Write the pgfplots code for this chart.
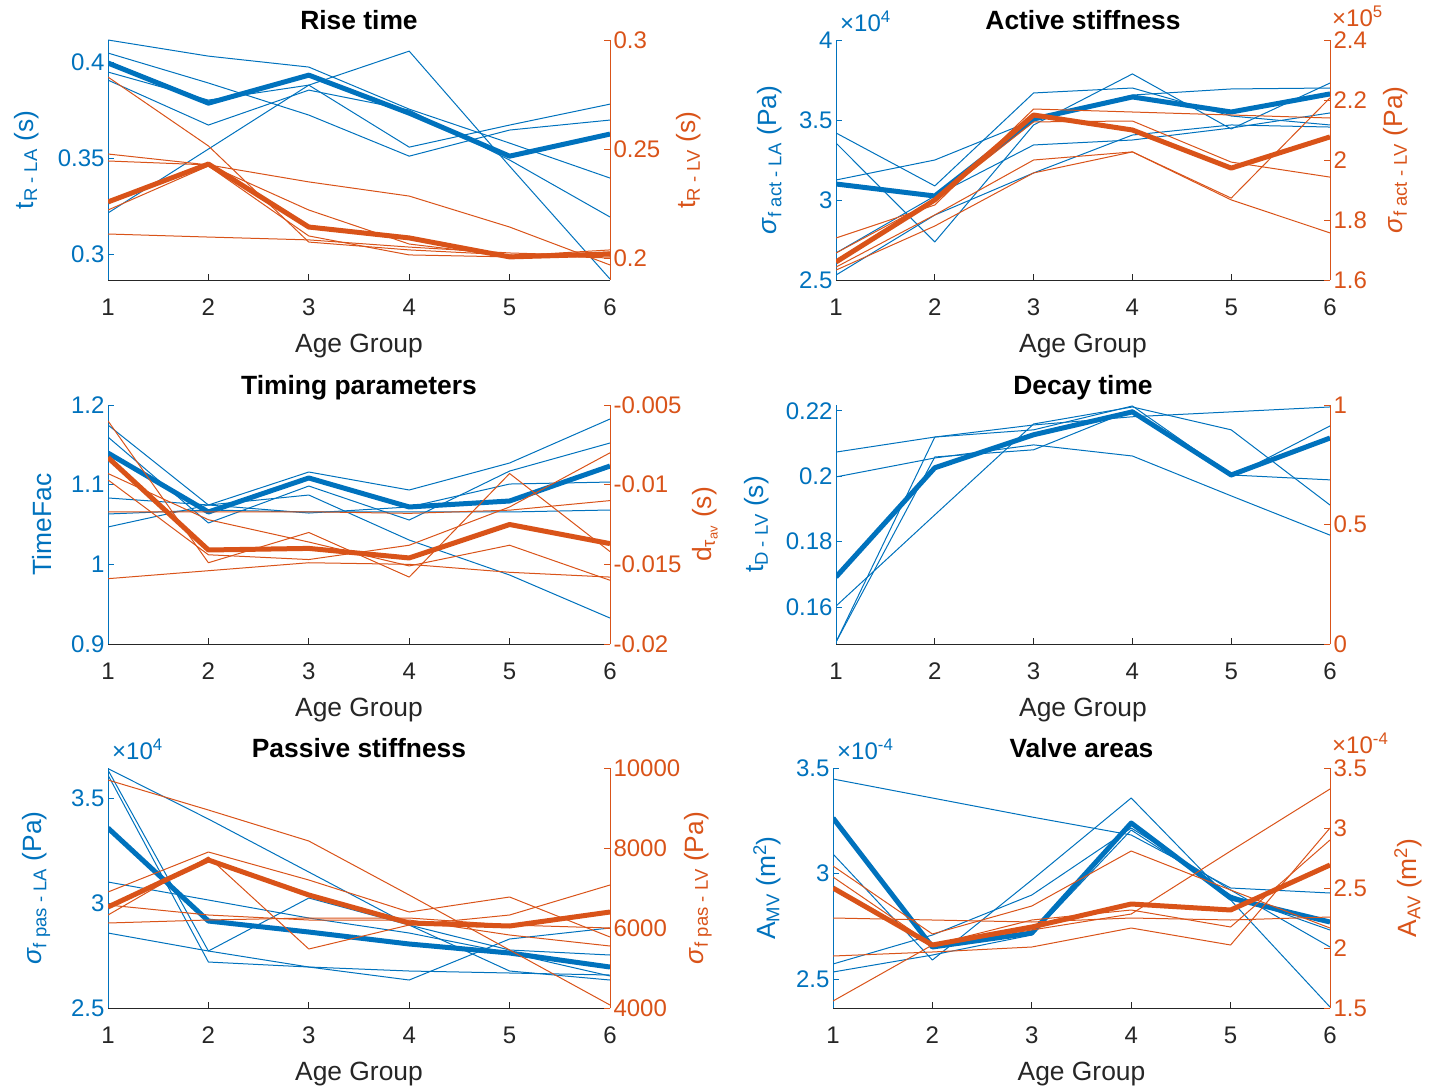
\documentclass[border=0pt]{standalone}
\usepackage{pgfplots}
\pgfplotsset{compat=1.18}
\usepackage{fontspec}
\setmainfont{Liberation Sans}
\definecolor{mblue}{rgb}{0,0.447,0.741}
\definecolor{morange}{rgb}{0.85,0.325,0.098}
\definecolor{axgray}{rgb}{0.15,0.15,0.15}
\newcommand\tks{\fontsize{24}{26}\selectfont}
\newcommand\lbs{\fontsize{26.4}{30}\selectfont}
\pgfplotsset{
  common/.style={scale only axis, xmin=1, xmax=6, tick align=inside, major tick length=6pt,
    scaled y ticks=false, scaled x ticks=false,
    /pgf/number format/assume math mode=true, ticklabel style={font=\tks},
    label style={font=\lbs}, axis line style={-, line width=0.8pt}},
  L/.style={common, axis x line*=bottom, axis y line*=left, xtick pos=left, ytick pos=left,
    xtick={1,2,3,4,5,6}, xticklabels={1,2,3,4,5,6},
    x axis line style={axgray}, y axis line style={mblue},
    xtick style={axgray, line width=0.8pt}, ytick style={mblue, line width=0.8pt},
    xticklabel style={axgray, anchor=base, yshift=-35pt}, yticklabel style={mblue},
    xlabel={Age Group}, xlabel style={axgray, at={(axis description cs:0.5,0)}, anchor=base, yshift=-72pt},
    title style={font=\lbs\bfseries, at={(axis description cs:0.5,1)}, anchor=base, yshift=4.5pt}},
  R/.style={common, hide x axis, axis y line*=right, ytick pos=right, yticklabel pos=right,
    y axis line style={morange}, ytick style={morange, line width=0.8pt}, yticklabel style={morange}},
  th/.style={line width=1pt, line join=round},
  tk/.style={line width=5pt, line join=round},
  ylab/.style 2 args={ylabel style={#1, at={(axis description cs:#2,0.5)}, anchor=center}},
}
\begin{document}
\begin{tikzpicture}
\path[use as bounding box] (0pt,0pt) rectangle (1443pt,-1091pt);
% ---------------- Panel 1: Rise time
\begin{axis}[L, at={(108pt,-280pt)}, anchor=south west, width=502pt, height=240pt,
  ymin=0.2865, ymax=0.4115, ytick={0.3,0.35,0.4}, yticklabels={0.3,0.35,0.4},
  title={Rise time}, ylabel={t\textsubscript{R - LA} (s)}, ylab={mblue}{-0.163}]
\addplot[mblue,th] coordinates {(1,0.4115)(2,0.4031)(3,0.3974)(4,0.3755)(5,0.3578)(6,0.3396)};
\addplot[mblue,th] coordinates {(1,0.4047)(2,0.3891)(3,0.3724)(4,0.3510)(5,0.3646)(6,0.3698)};
\addplot[mblue,th] coordinates {(1,0.3948)(2,0.3802)(3,0.3880)(4,0.3557)(5,0.3672)(6,0.3781)};
\addplot[mblue,th] coordinates {(1,0.3906)(2,0.3672)(3,0.3854)(4,0.3750)(5,0.3490)(6,0.3193)};
\addplot[mblue,th] coordinates {(1,0.3214)(2,0.3547)(3,0.3880)(4,0.4057)(5,0.3458)(6,0.2870)};
\addplot[mblue,tk] coordinates {(1,0.3995)(2,0.3786)(3,0.3932)(4,0.3734)(5,0.3510)(6,0.3625)};
\end{axis}
\begin{axis}[R, at={(108pt,-280pt)}, anchor=south west, width=502pt, height=240pt,
  ymin=0.1899, ymax=0.3, ytick={0.2,0.25,0.3}, yticklabels={0.2,0.25,0.3},
  ylabel={t\textsubscript{R - LV} (s)}, ylab={morange}{1.157}]
\addplot[morange,th] coordinates {(1,0.2830)(2,0.2514)(3,0.2073)(4,0.2037)(5,0.2014)(6,0.2000)};
\addplot[morange,th] coordinates {(1,0.2477)(2,0.2427)(3,0.2349)(4,0.2284)(5,0.2142)(6,0.1968)};
\addplot[morange,th] coordinates {(1,0.2445)(2,0.2427)(3,0.2220)(4,0.2064)(5,0.2009)(6,0.2037)};
\addplot[morange,th] coordinates {(1,0.2220)(2,0.2422)(3,0.2101)(4,0.2014)(5,0.2005)(6,0.2028)};
\addplot[morange,th] coordinates {(1,0.2110)(2,0.2096)(3,0.2083)(4,0.2050)(5,0.2023)(6,0.2009)};
\addplot[morange,tk] coordinates {(1,0.2257)(2,0.2431)(3,0.2142)(4,0.2092)(5,0.2005)(6,0.2018)};
\end{axis}
% ---------------- Panel 2: Active stiffness
\begin{axis}[L, at={(836pt,-280pt)}, anchor=south west, width=494pt, height=240pt,
  ymin=2.5, ymax=4, ytick={2.5,3,3.5,4}, yticklabels={2.5,3,3.5,4},
  title={Active stiffness}, ylabel={\textit{σ}\textsubscript{f act - LA} (Pa)}, ylab={mblue}{-0.134},
  extra description/.code={\node[anchor=south west, inner sep=0pt, mblue, font=\tks, xshift=4pt, yshift=8pt] at (0,1) {×10\textsuperscript{4}};}]
\addplot[mblue,th] coordinates {(1,3.419)(2,3.088)(3,3.669)(4,3.700)(5,3.525)(6,3.469)};
\addplot[mblue,th] coordinates {(1,3.356)(2,2.738)(3,3.469)(4,3.788)(5,3.444)(6,3.731)};
\addplot[mblue,th] coordinates {(1,3.125)(2,3.250)(3,3.500)(4,3.656)(5,3.694)(6,3.700)};
\addplot[mblue,th] coordinates {(1,2.669)(2,3.025)(3,3.344)(4,3.375)(5,3.450)(6,3.544)};
\addplot[mblue,th] coordinates {(1,2.531)(2,2.906)(3,3.169)(4,3.406)(5,3.469)(6,3.456)};
\addplot[mblue,tk] coordinates {(1,3.100)(2,3.025)(3,3.506)(4,3.644)(5,3.550)(6,3.663)};
\end{axis}
\begin{axis}[R, at={(836pt,-280pt)}, anchor=south west, width=494pt, height=240pt,
  ymin=1.6, ymax=2.4, ytick={1.6,1.8,2,2.2,2.4}, yticklabels={1.6,1.8,2,2.2,2.4},
  ylabel={\textit{σ}\textsubscript{f act - LV} (Pa)}, ylab={morange}{1.132},
  extra description/.code={\node[anchor=south west, inner sep=0pt, morange, font=\tks, xshift=2pt, yshift=13pt] at (1,1) {×10\textsuperscript{5}};}]
\addplot[morange,th] coordinates {(1,1.740)(2,1.850)(3,2.170)(4,2.160)(5,2.150)(6,2.140)};
\addplot[morange,th] coordinates {(1,1.690)(2,1.867)(3,2.127)(4,2.130)(5,1.993)(6,1.943)};
\addplot[morange,th] coordinates {(1,1.643)(2,1.817)(3,2.000)(4,2.027)(5,1.873)(6,2.207)};
\addplot[morange,th] coordinates {(1,1.633)(2,1.780)(3,1.957)(4,2.027)(5,1.867)(6,1.757)};
\addplot[morange,tk] coordinates {(1,1.660)(2,1.867)(3,2.150)(4,2.100)(5,1.973)(6,2.077)};
\end{axis}
% ---------------- Panel 3: Timing parameters
\begin{axis}[L, at={(108pt,-644pt)}, anchor=south west, width=502pt, height=239pt,
  ymin=0.9, ymax=1.2, ytick={0.9,1,1.1,1.2}, yticklabels={0.9,1,1.1,1.2},
  title={Timing parameters}, ylabel={TimeFac}, ylab={mblue}{-0.131}]
\addplot[mblue,th] coordinates {(1,1.1749)(2,1.0745)(3,1.1159)(4,1.0933)(5,1.1272)(6,1.1824)};
\addplot[mblue,th] coordinates {(1,1.1598)(2,1.0519)(3,1.0983)(4,1.0556)(5,1.1171)(6,1.1523)};
\addplot[mblue,th] coordinates {(1,1.0833)(2,1.0745)(3,1.0644)(4,1.0720)(5,1.1008)(6,1.1033)};
\addplot[mblue,th] coordinates {(1,1.0632)(2,1.0682)(3,1.0657)(4,1.0657)(5,1.0657)(6,1.0682)};
\addplot[mblue,th] coordinates {(1,1.0469)(2,1.0745)(3,1.0870)(4,1.0305)(5,0.9866)(6,0.9326)};
\addplot[mblue,tk] coordinates {(1,1.1397)(2,1.0657)(3,1.1084)(4,1.0720)(5,1.0795)(6,1.1234)};
\end{axis}
\begin{axis}[R, at={(108pt,-644pt)}, anchor=south west, width=502pt, height=239pt,
  ymin=-0.02, ymax=-0.005, ytick={-0.02,-0.015,-0.01,-0.005}, yticklabels={-0.02,-0.015,-0.01,-0.005},
  ylabel={d\textsubscript{τ\textsubscript{av}} (s)}, ylab={morange}{1.189}]
\addplot[morange,th] coordinates {(1,-0.0060)(2,-0.0149)(3,-0.0130)(4,-0.0158)(5,-0.0093)(6,-0.0142)};
\addplot[morange,th] coordinates {(1,-0.0093)(2,-0.0122)(3,-0.0136)(4,-0.0151)(5,-0.0138)(6,-0.0160)};
\addplot[morange,th] coordinates {(1,-0.0097)(2,-0.0144)(3,-0.0147)(4,-0.0138)(5,-0.0114)(6,-0.0080)};
\addplot[morange,th] coordinates {(1,-0.0117)(2,-0.0117)(3,-0.0117)(4,-0.0118)(5,-0.0116)(6,-0.0110)};
\addplot[morange,th] coordinates {(1,-0.0159)(2,-0.0154)(3,-0.0149)(4,-0.0150)(5,-0.0155)(6,-0.0158)};
\addplot[morange,tk] coordinates {(1,-0.0083)(2,-0.0141)(3,-0.0140)(4,-0.0146)(5,-0.0125)(6,-0.0137)};
\end{axis}
% ---------------- Panel 4: Decay time
\begin{axis}[L, at={(836pt,-644pt)}, anchor=south west, width=494pt, height=239pt,
  ymin=0.1487, ymax=0.2218, ytick={0.16,0.18,0.2,0.22}, yticklabels={0.16,0.18,0.2,0.22},
  title={Decay time}, ylabel={t\textsubscript{D - LV} (s)}, ylab={mblue}{-0.160}]
\addplot[mblue,th] coordinates {(1,0.2074)(2,0.2120)(3,0.2157)(4,0.2182)(5,0.2197)(6,0.2212)};
\addplot[mblue,th] coordinates {(1,0.1998)(2,0.2056)(3,0.2096)(4,0.2062)(5,0.1940)(6,0.1820)};
\addplot[mblue,th] coordinates {(1,0.1603)(2,0.1882)(3,0.2160)(4,0.2212)(5,0.2142)(6,0.1912)};
\addplot[mblue,th] coordinates {(1,0.1493)(2,0.2120)(3,0.2142)(4,0.2215)(5,0.2004)(6,0.1989)};
\addplot[mblue,th] coordinates {(1,0.1493)(2,0.2059)(3,0.2081)(4,0.2203)(5,0.1998)(6,0.2154)};
\addplot[mblue,tk] coordinates {(1,0.1692)(2,0.2026)(3,0.2127)(4,0.2197)(5,0.2004)(6,0.2117)};
\end{axis}
\begin{axis}[R, at={(836pt,-644pt)}, anchor=south west, width=494pt, height=239pt,
  ymin=0, ymax=1, ytick={0,0.5,1}, yticklabels={0,0.5,1}]
\end{axis}
% ---------------- Panel 5: Passive stiffness
\begin{axis}[L, at={(108pt,-1008pt)}, anchor=south west, width=502pt, height=240pt,
  ymin=2.5, ymax=3.643, ytick={2.5,3,3.5}, yticklabels={2.5,3,3.5},
  title={Passive stiffness}, ylabel={\textit{σ}\textsubscript{f pas - LA} (Pa)}, ylab={mblue}{-0.143},
  extra description/.code={\node[anchor=south west, inner sep=0pt, mblue, font=\tks, xshift=4pt, yshift=8pt] at (0,1) {×10\textsuperscript{4}};}]
\addplot[mblue,th] coordinates {(1,3.6400)(2,3.4000)(3,3.1476)(4,2.8952)(5,2.6762)(6,2.6333)};
\addplot[mblue,th] coordinates {(1,3.6333)(2,2.7714)(3,3.0238)(4,2.8952)(5,2.7762)(6,2.7524)};
\addplot[mblue,th] coordinates {(1,3.6095)(2,2.7190)(3,2.6952)(4,2.6333)(5,2.8286)(6,2.8810)};
\addplot[mblue,th] coordinates {(1,3.1000)(2,3.0143)(3,2.9286)(4,2.8571)(5,2.7619)(6,2.6524)};
\addplot[mblue,th] coordinates {(1,2.8571)(2,2.7714)(3,2.6952)(4,2.6762)(5,2.6667)(6,2.6571)};
\addplot[mblue,tk] coordinates {(1,3.3571)(2,2.9143)(3,2.8619)(4,2.8048)(5,2.7619)(6,2.6952)};
\end{axis}
\begin{axis}[R, at={(108pt,-1008pt)}, anchor=south west, width=502pt, height=240pt,
  ymin=4000, ymax=10000, ytick={4000,6000,8000,10000}, yticklabels={4000,6000,8000,10000},
  ylabel={\textit{σ}\textsubscript{f pas - LV} (Pa)}, ylab={morange}{1.175}]
\addplot[morange,th] coordinates {(1,9700)(2,8950)(3,8175)(4,6825)(5,5450)(6,4075)};
\addplot[morange,th] coordinates {(1,6900)(2,7900)(3,7200)(4,6400)(5,6775)(6,5775)};
\addplot[morange,th] coordinates {(1,6325)(2,7775)(3,5475)(4,6075)(5,6325)(6,7075)};
\addplot[morange,th] coordinates {(1,6125)(2,6200)(3,6250)(4,6250)(5,6075)(6,6000)};
\addplot[morange,th] coordinates {(1,6575)(2,6325)(3,6200)(4,6200)(5,5825)(6,5550)};
\addplot[morange,tk] coordinates {(1,6525)(2,7700)(3,6825)(4,6125)(5,6050)(6,6400)};
\end{axis}
% ---------------- Panel 6: Valve areas
\begin{axis}[L, at={(833pt,-1008pt)}, anchor=south west, width=497pt, height=240pt,
  ymin=2.3626, ymax=3.5, ytick={2.5,3,3.5}, yticklabels={2.5,3,3.5},
  title={Valve areas}, ylabel={A\textsubscript{MV} (m\textsuperscript{2})}, ylab={mblue}{-0.133},
  extra description/.code={\node[anchor=south west, inner sep=0pt, mblue, font=\tks, xshift=4pt, yshift=8pt] at (0,1) {×10\textsuperscript{-4}};}]
\addplot[mblue,th] coordinates {(1,3.4479)(2,3.3578)(3,3.2678)(4,3.1825)(5,2.9313)(6,2.9076)};
\addplot[mblue,th] coordinates {(1,3.0924)(2,2.5900)(3,2.9692)(4,3.3578)(5,2.8744)(6,2.3673)};
\addplot[mblue,th] coordinates {(1,2.5711)(2,2.7085)(3,2.8981)(4,3.2156)(5,2.9218)(6,2.6517)};
\addplot[mblue,th] coordinates {(1,2.5332)(2,2.6137)(3,2.7085)(4,3.2062)(5,2.8981)(6,2.7322)};
\addplot[mblue,tk] coordinates {(1,3.2630)(2,2.6517)(3,2.7180)(4,3.2393)(5,2.8839)(6,2.7701)};
\end{axis}
\begin{axis}[R, at={(833pt,-1008pt)}, anchor=south west, width=497pt, height=240pt,
  ymin=1.5, ymax=3.5, ytick={1.5,2,2.5,3,3.5}, yticklabels={1.5,2,2.5,3,3.5},
  ylabel={A\textsubscript{AV} (m\textsuperscript{2})}, ylab={morange}{1.157},
  extra description/.code={\node[anchor=south west, inner sep=0pt, morange, font=\tks, xshift=2pt, yshift=14pt] at (1,1) {×10\textsuperscript{-4}};}]
\addplot[morange,th] coordinates {(1,2.6833)(2,2.1167)(3,2.3500)(4,2.8083)(5,2.4833)(6,2.1667)};
\addplot[morange,th] coordinates {(1,2.5917)(2,2.0250)(3,2.2333)(4,2.3167)(5,2.1750)(6,2.9000)};
\addplot[morange,th] coordinates {(1,2.2500)(2,2.2333)(3,2.2167)(4,2.2500)(5,2.2333)(6,2.2583)};
\addplot[morange,th] coordinates {(1,1.9333)(2,1.9667)(3,2.0083)(4,2.1667)(5,2.0250)(6,3.0000)};
\addplot[morange,th] coordinates {(1,1.5583)(2,2.0250)(3,2.1500)(4,2.2833)(5,2.8083)(6,3.3250)};
\addplot[morange,tk] coordinates {(1,2.5000)(2,2.0250)(3,2.1750)(4,2.3667)(5,2.3167)(6,2.6917)};
\end{axis}
\end{tikzpicture}
\end{document}
